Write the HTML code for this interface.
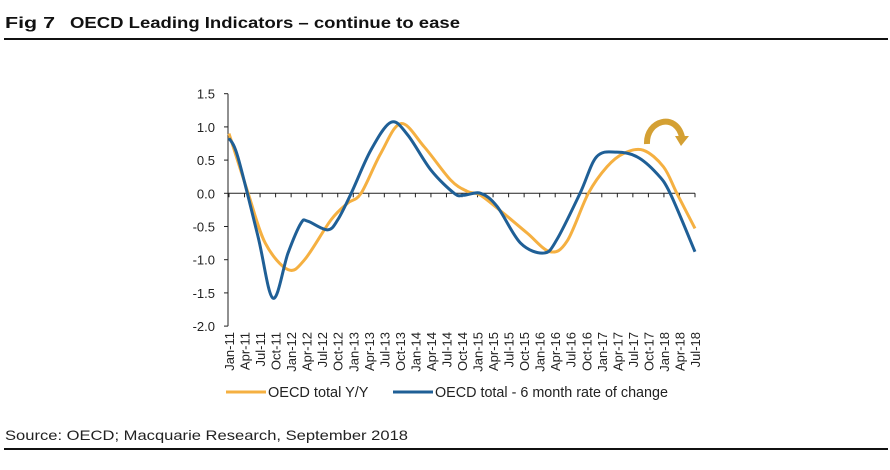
<!DOCTYPE html>
<html><head><meta charset="utf-8"><style>
body{margin:0;background:#fff;width:890px;height:465px;overflow:hidden;font-family:"Liberation Sans",sans-serif}
</style></head><body>
<svg width="890" height="465">
<text x="5" y="28" font-size="16" font-weight="bold" fill="#111" textLength="50" lengthAdjust="spacingAndGlyphs">Fig 7</text>
<text x="70" y="28" font-size="16" font-weight="bold" fill="#111" textLength="390" lengthAdjust="spacingAndGlyphs">OECD Leading Indicators – continue to ease</text>
<rect x="4" y="38" width="884" height="2" fill="#111"/>
<g id="axes"></g>
<g id="series"></g>
<g>
<line x1="226" y1="392" x2="266" y2="392" stroke="#F5B041" stroke-width="3"/>
<text x="268" y="397" font-size="14.5" fill="#222">OECD total Y/Y</text>
<line x1="393" y1="392" x2="433" y2="392" stroke="#1F5F96" stroke-width="3"/>
<text x="435" y="397" font-size="14.5" fill="#222" textLength="233" lengthAdjust="spacingAndGlyphs">OECD total - 6 month rate of change</text>
</g>
<g>
<path d="M647,144 C646,120 676,112 682,137" fill="none" stroke="#D4A033" stroke-width="6"/>
<polygon points="675,136 689,136 681,146" fill="#D4A033"/>
</g>
<text x="5" y="440" font-size="14" fill="#222" textLength="403" lengthAdjust="spacingAndGlyphs">Source: OECD; Macquarie Research, September 2018</text>
<rect x="4" y="448" width="884" height="2" fill="#111"/>
</svg>
<script>
const yTicks=[1.5,1.0,0.5,0.0,-0.5,-1.0,-1.5,-2.0];
const xLabels=["Jan-11","Apr-11","Jul-11","Oct-11","Jan-12","Apr-12","Jul-12","Oct-12","Jan-13","Apr-13","Jul-13","Oct-13","Jan-14","Apr-14","Jul-14","Oct-14","Jan-15","Apr-15","Jul-15","Oct-15","Jan-16","Apr-16","Jul-16","Oct-16","Jan-17","Apr-17","Jul-17","Oct-17","Jan-18","Apr-18","Jul-18"];
const yyMonths=[0,3.7,7,11.4,14.6,19.7,22.9,25.5,29.3,33.2,37.7,42.8,46,48.6,53,57.6,62,65.3,69.4,73,76.2,80,83.9,86.5,90];
const yyValues=[0.9,0,-0.75,-1.15,-1.0,-0.4,-0.15,0,0.6,1.05,0.7,0.2,0.03,-0.03,-0.3,-0.6,-0.88,-0.72,0,0.4,0.6,0.65,0.4,0,-0.53];
const sixMonths=[0,1.7,5.6,8.5,11.4,13.9,15.2,19,21,23.6,27.4,31.3,34.5,39,43.5,45.3,48.6,51.8,56.3,60.8,63.3,67.8,71,74.9,78.8,82.6,85.2,90];
const sixValues=[0.83,0.55,-0.65,-1.58,-0.9,-0.45,-0.42,-0.55,-0.4,0,0.65,1.07,0.88,0.35,0,-0.03,0,-0.2,-0.75,-0.9,-0.7,0,0.55,0.62,0.55,0.3,0,-0.88];
const NS="http://www.w3.org/2000/svg";
const X0=229,X1=695,Y0=193.3,PY=66.4;
const xs=m=>X0+(X1-X0)*m/90;
const ys=v=>Y0-v*PY;
const axes=document.getElementById('axes');
function mk(t,a,p){const e=document.createElementNS(NS,t);for(const k in a)e.setAttribute(k,a[k]);(p||axes).appendChild(e);return e;}
const ya=mk('line',{x1:228,y1:ys(1.5),x2:228,y2:ys(-2),stroke:'#222','stroke-width':1});


yTicks.forEach(v=>{
 const tk=mk('line',{x1:224,y1:ys(v),x2:228,y2:ys(v),stroke:'#222'});
 
 
 const t=mk('text',{x:215,y:ys(v)+5,'font-size':13,'text-anchor':'end',fill:'#222'});
 t.textContent=v.toFixed(1);
 
 
});
const xa=mk('line',{x1:228,y1:Y0,x2:X1,y2:Y0,stroke:'#222','stroke-width':1});


xLabels.forEach((l,i)=>{
 const x=xs(i*3);
 const tk=mk('line',{x1:x,y1:Y0,x2:x,y2:Y0+4,stroke:'#222'});
 
 
 const t=mk('text',{x:0,y:0,'font-size':13,'text-anchor':'end',fill:'#222',transform:`translate(${x+5},332) rotate(-90)`});
 t.textContent=l;
 
 
});
function pathD(ms,vs){
 const p=ms.map((m,i)=>[xs(m),ys(vs[i])]);
 let d=`M${p[0][0]},${p[0][1]}`;
 for(let i=0;i<p.length-1;i++){
  const a=p[Math.max(0,i-1)],b=p[i],c=p[i+1],e=p[Math.min(p.length-1,i+2)];
  d+=` C${b[0]+(c[0]-a[0])/6},${b[1]+(c[1]-a[1])/6} ${c[0]-(e[0]-b[0])/6},${c[1]-(e[1]-b[1])/6} ${c[0]},${c[1]}`;
 }
 return d;
}
const sg=document.getElementById('series');
const l1=mk('path',{d:pathD(yyMonths,yyValues),fill:'none',stroke:'#F5B041','stroke-width':3},sg);


const l2=mk('path',{d:pathD(sixMonths,sixValues),fill:'none',stroke:'#1F5F96','stroke-width':3},sg);


</script>
</body></html>
